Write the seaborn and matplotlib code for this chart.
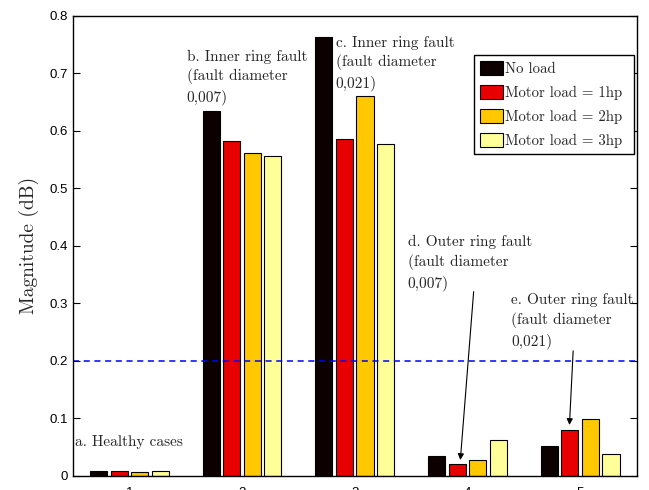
import matplotlib
matplotlib.use("Agg")
import matplotlib.pyplot as plt
import seaborn as sns
import pandas as pd

cases = ["1", "2", "3", "4", "5"]
loads = ["No load", "Motor load = 1hp", "Motor load = 2hp", "Motor load = 3hp"]
no_load = [0.008, 0.634, 0.763, 0.034, 0.052]
load_1hp = [0.008, 0.583, 0.586, 0.020, 0.080]
load_2hp = [0.006, 0.562, 0.661, 0.027, 0.098]
load_3hp = [0.007, 0.557, 0.577, 0.062, 0.038]
threshold = 0.2
colors = ["#0c0000", "#e80000", "#ffc800", "#ffff99"]

rows = []
for load, vals in zip(loads, [no_load, load_1hp, load_2hp, load_3hp]):
    for c, v in zip(cases, vals):
        rows.append({"case": c, "load": load, "value": v})
df = pd.DataFrame(rows)

sns.set_style("white")
plt.rcParams["font.family"] = ["Liberation Sans", "DejaVu Sans"]
serif = ["cmr10", "DejaVu Serif"]

fig = plt.figure(figsize=(6.49, 4.90), dpi=100)
ax = fig.add_axes([73 / 649, 14.5 / 490, 563.5 / 649, 459.5 / 490])

sns.barplot(data=df, x="case", y="value", hue="load", order=cases,
            hue_order=loads, palette=colors, saturation=1, width=0.73, gap=0.17,
            edgecolor="black", linewidth=0.8, errorbar=None, ax=ax,
            legend=True)

ax.axhline(threshold, color="#0000ff", linestyle=(0, (4, 3)), linewidth=1.1)

ax.set_xlim(-0.5, 4.5)
ax.set_ylim(0, 0.8)
ax.set_yticks([0, 0.1, 0.2, 0.3, 0.4, 0.5, 0.6, 0.7, 0.8])
ax.set_yticklabels(["0", "0.1", "0.2", "0.3", "0.4", "0.5", "0.6", "0.7", "0.8"])
ax.set_xlabel("")
ax.set_ylabel("Magnitude (dB)", family=serif, fontsize=14, labelpad=8)
ax.tick_params(axis="both", direction="in", length=5, width=0.8,
               labelsize=9.5, colors="black", right=True, top=False,
               bottom=False, left=True)
ax.tick_params(axis="x", pad=8)
for s in ax.spines.values():
    s.set_visible(True)
    s.set_color("black")
    s.set_linewidth(1.0)

txt = dict(family=serif, fontsize=11, va="top", ha="left", linespacing=1.45)
ax.text(-0.48, 0.059, "a. Healthy cases", **{**txt, "va": "center"})
ax.text(0.51, 0.742, "b. Inner ring fault\n(fault diameter\n0,007)", **txt)
ax.text(1.83, 0.766, "c. Inner ring fault\n(fault diameter\n0,021)", **txt)
ax.text(2.47, 0.419, "d. Outer ring fault\n(fault diameter\n0,007)", **txt)
ax.text(3.39, 0.318, "e. Outer ring fault\n(fault diameter\n0,021)", **txt)

arrow = dict(arrowstyle="-|>", color="black", lw=0.8, mutation_scale=9,
             shrinkA=0, shrinkB=0)
ax.annotate("", xy=(2.937, 0.027), xytext=(3.055, 0.320), arrowprops=arrow)
ax.annotate("", xy=(3.905, 0.088), xytext=(3.938, 0.217), arrowprops=arrow)

# legend box spans a fixed width in figure pixels
leg_x0, leg_top, leg_w = 474 / 649, 1 - 55 / 490, 160 / 649
leg = ax.legend(loc="upper left",
                bbox_to_anchor=(leg_x0, leg_top - 0.2, leg_w, 0.2),
                bbox_transform=fig.transFigure, mode="expand",
                prop={"family": serif, "size": 10.7},
                frameon=True, fancybox=False, framealpha=1, edgecolor="black",
                handlelength=1.55, handleheight=1.05, handletextpad=0.15,
                labelspacing=0.62, borderpad=0.4, borderaxespad=0)
leg.get_frame().set_linewidth(1.0)

fig.savefig("out.png", dpi=100)
